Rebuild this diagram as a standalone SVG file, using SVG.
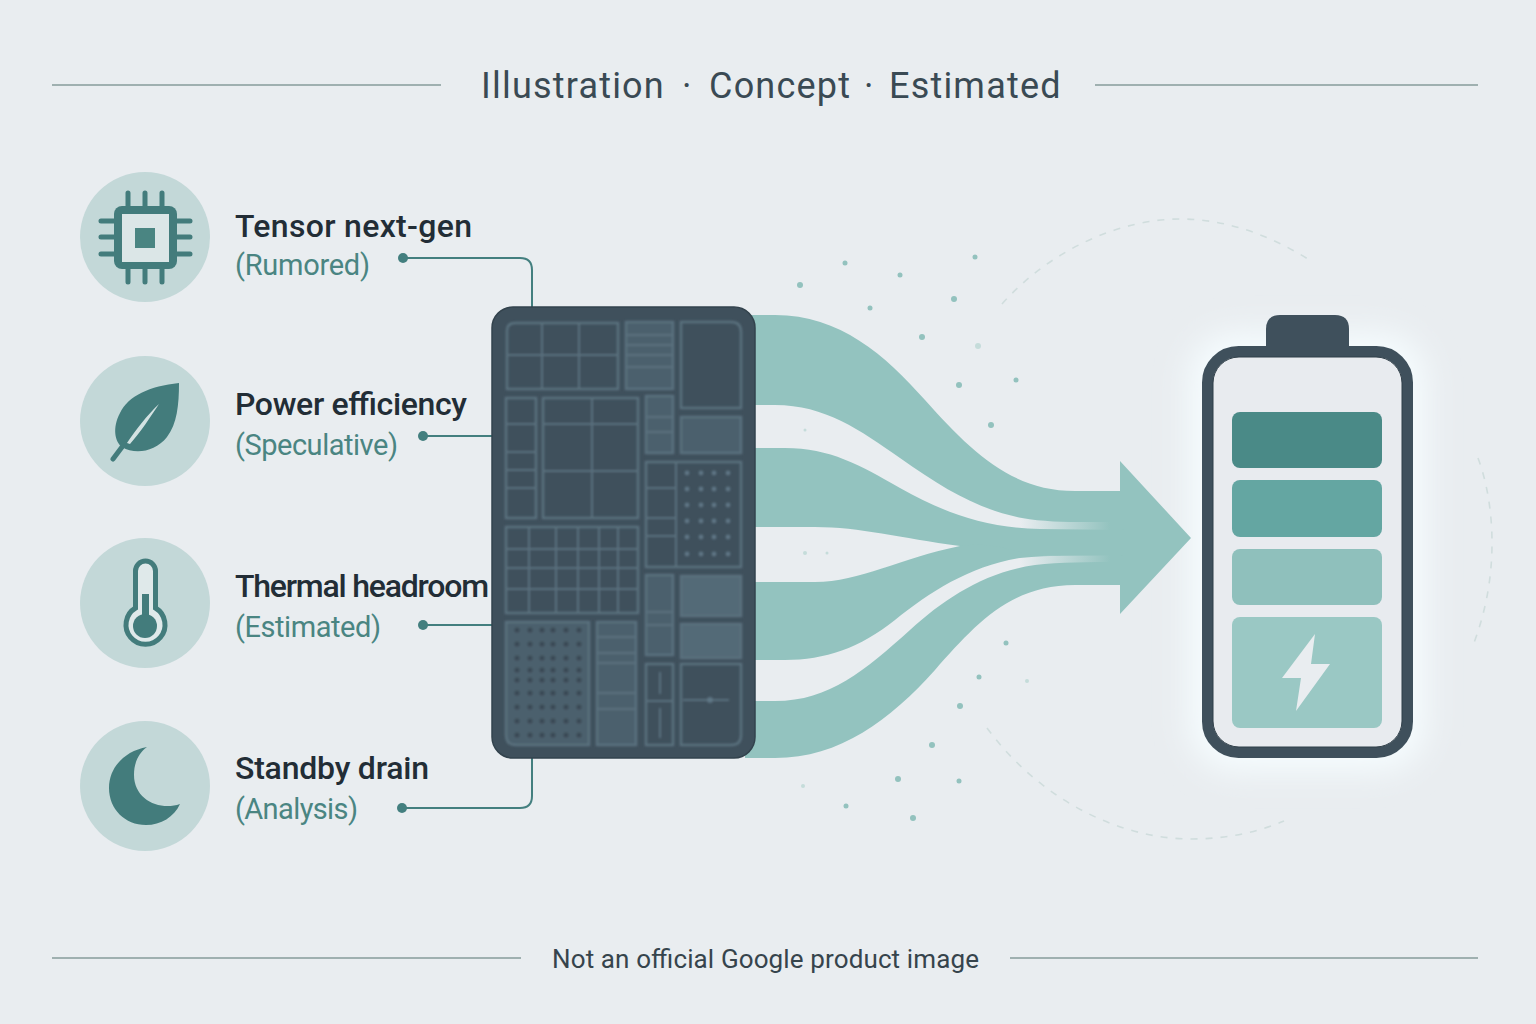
<svg xmlns="http://www.w3.org/2000/svg" width="1536" height="1024" viewBox="0 0 1536 1024">
  <style>
    text { font-family: Roboto, "Liberation Sans", sans-serif; }
    .rule { stroke: #9fb0b0; stroke-width: 2; fill: none; }
    .title { font-size: 36px; font-weight: 450; fill: #3a4a54; letter-spacing: 1.2px; }
    .foot { font-size: 26px; fill: #36444c; }
    .name { font-size: 32px; font-weight: 500; fill: #222d36; }
    .tag { font-size: 29px; fill: #4a8582; }
    .disc { fill: #c3d8d8; }
    .ink { fill: #437c7c; }
    .wire { fill: none; stroke: #437f7f; stroke-width: 2; }
    .end { fill: #437f7f; }
    .cell { fill: none; stroke: #5a717e; stroke-width: 2.5; }
    .cell.soft { fill: #4b606d; }
    .line { stroke: #5a717e; stroke-width: 2; fill: none; }
    .pad { fill: #5f7685; }
    .pad.dark { fill: #3a4a55; }
    .spark { fill: #93c2be; }
    .spark.dim { fill: #c5dcda; }
    .orbit { fill: none; stroke: #d0dddd; stroke-width: 1.6; stroke-dasharray: 7 8; }
    .stream { fill: #93c3bf; }
  </style>
  <defs>
    <linearGradient id="seam" gradientUnits="userSpaceOnUse" x1="1020" y1="0" x2="1110" y2="0">
      <stop offset="0" stop-color="#93c3bf" stop-opacity="0"/>
      <stop offset="1" stop-color="#93c3bf" stop-opacity="1"/>
    </linearGradient>
    <filter id="halo" x="-30%" y="-30%" width="160%" height="160%">
      <feGaussianBlur stdDeviation="16"/>
    </filter>
    <filter id="soften" x="-2%" y="-2%" width="104%" height="104%">
      <feGaussianBlur stdDeviation="0.8"/>
    </filter>
  </defs>

  <rect width="1536" height="1024" fill="#e9edf0"/>

  <g id="header">
    <line class="rule" x1="52" y1="85" x2="441" y2="85"/>
    <line class="rule" x1="1095" y1="85" x2="1478" y2="85"/>
    <text class="title" y="98"><tspan x="481">Illustration</tspan><tspan x="682">·</tspan><tspan x="709">Concept</tspan><tspan x="864">·</tspan><tspan x="889">Estimated</tspan></text>
  </g>

  <g id="footer">
    <line class="rule" x1="52" y1="958" x2="521" y2="958"/>
    <line class="rule" x1="1010" y1="958" x2="1478" y2="958"/>
    <text class="foot" x="552" y="968" textLength="427">Not an official Google product image</text>
  </g>

  <g id="orbits">
    <path class="orbit" d="M1002 304 C1050 250 1120 219 1180 219 C1230 219 1275 238 1311 261"/>
    <path class="orbit" d="M987 728 C1040 800 1120 839 1191 839 C1225 839 1255 833 1284 821"/>
    <path class="orbit" d="M1478 458 C1488 485 1492 515 1492 543 C1492 580 1485 615 1472 648"/>
  </g>

  <g id="particles">
    <circle class="spark" cx="845" cy="263" r="2.5"/><circle class="spark" cx="900" cy="275" r="2.5"/>
    <circle class="spark" cx="975" cy="257" r="2.5"/><circle class="spark" cx="800" cy="285" r="3"/>
    <circle class="spark" cx="870" cy="308" r="2.5"/><circle class="spark" cx="954" cy="299" r="3"/>
    <circle class="spark" cx="922" cy="337" r="3"/><circle class="spark dim" cx="978" cy="346" r="3"/>
    <circle class="spark" cx="959" cy="385" r="3"/><circle class="spark" cx="1016" cy="380" r="2.5"/>
    <circle class="spark" cx="991" cy="425" r="3"/><circle class="spark dim" cx="805" cy="430" r="1.5"/>
    <circle class="spark dim" cx="805" cy="553" r="2"/><circle class="spark dim" cx="827" cy="553" r="1.5"/>
    <circle class="spark" cx="1006" cy="643" r="2.5"/><circle class="spark" cx="979" cy="677" r="2.5"/>
    <circle class="spark dim" cx="1027" cy="681" r="2"/><circle class="spark" cx="960" cy="706" r="3"/>
    <circle class="spark" cx="932" cy="745" r="3"/><circle class="spark" cx="898" cy="779" r="3"/>
    <circle class="spark" cx="959" cy="781" r="2.5"/><circle class="spark dim" cx="803" cy="786" r="2"/>
    <circle class="spark" cx="846" cy="806" r="2.5"/><circle class="spark" cx="913" cy="818" r="3"/>
  </g>

  <g id="connectors">
    <path class="wire" d="M403 258 H520 Q532 258 532 270 V307"/>
    <path class="wire" d="M423 436 H492"/>
    <path class="wire" d="M423 625 H492"/>
    <path class="wire" d="M402 808 H520 Q532 808 532 796 V758"/>
    <circle class="end" cx="403" cy="258" r="5"/>
    <circle class="end" cx="423" cy="436" r="5"/>
    <circle class="end" cx="423" cy="625" r="5"/>
    <circle class="end" cx="402" cy="808" r="5"/>
  </g>

  <rect id="battery-glow" x="1190" y="334" width="235" height="436" rx="44" fill="#f6fdff" filter="url(#halo)"/>

  <g id="flow">
    <!-- upper band, arrow head and lower band share one outline -->
    <path class="stream" d="M745 315 H775 C840 315 885 355 925 400 C970 450 1010 491 1075 491 H1120 V461 L1191 538 L1120 614 V585 H1075 C1010 585 975 625 935 670 C890 720 840 758 775 758 H745 V701 H775 C830 701 865 670 910 630 C945 598 985 572 1035 565 C1060 562 1090 562 1120 562 V522 C1080 522 1050 523 1022 518 C980 510 945 490 900 458 C860 430 825 405 775 405 H745 Z"/>
    <path class="stream" d="M745 448 H785 C830 448 860 465 900 488 C945 513 985 528 1040 529 L1125 530 V555 L1040 556 C1020 556 1000 553 960 546 C900 538 860 527 815 527 H745 Z"/>
    <path class="stream" d="M745 582 H815 C860 582 900 558 960 546 C1000 540 1020 556 1040 556 L1125 555 C1085 555 1050 555 1020 558 C970 566 930 592 895 620 C860 648 825 660 785 660 H745 Z"/>
    <path fill="url(#seam)" d="M1015 515 H1120 V532 H1015 Z"/>
    <path fill="url(#seam)" d="M1015 550 H1120 V566 H1015 Z"/>
  </g>

  <g id="soc">
    <rect x="492" y="307" width="263" height="451" rx="21" fill="#3f505c" stroke="#33434d" stroke-width="1.5"/>
    <g filter="url(#soften)">
    <path class="cell" d="M515 323 H618 V389 H507 V331 Q507 323 515 323 Z"/>
    <path class="line" d="M542 323 V389 M579 323 V389 M507 355 H618"/>

    <rect class="cell soft" x="626" y="322" width="47" height="67"/>
    <path class="line" d="M626 335 H673 M626 345 H673 M626 355 H673 M626 367 H673"/>

    <path class="cell" d="M681 322 H731 Q741 322 741 332 V408 H681 Z"/>

    <rect class="cell" x="506" y="398" width="30" height="120"/>
    <path class="line" d="M506 424 H536 M506 452 H536 M506 470 H536 M506 488 H536"/>

    <rect class="cell" x="543" y="398" width="95" height="120"/>
    <path class="line" d="M592 398 V518 M543 424 H638 M543 471 H638"/>

    <rect class="cell soft" x="646" y="396" width="27" height="57"/>
    <path class="line" d="M646 417 H673 M646 432 H673"/>

    <rect class="cell soft" x="681" y="417" width="60" height="36"/>

    <rect class="cell" x="646" y="462" width="95" height="105"/>
    <path class="line" d="M676 462 V567 M646 488 H676 M646 518 H676 M646 536 H676"/>
    <g class="pad">
      <circle cx="687" cy="473" r="2.4"/><circle cx="701" cy="473" r="2.4"/><circle cx="714" cy="473" r="2.4"/><circle cx="728" cy="473" r="2.4"/>
      <circle cx="687" cy="489" r="2.4"/><circle cx="701" cy="489" r="2.4"/><circle cx="714" cy="489" r="2.4"/><circle cx="728" cy="489" r="2.4"/>
      <circle cx="687" cy="505" r="2.4"/><circle cx="701" cy="505" r="2.4"/><circle cx="714" cy="505" r="2.4"/><circle cx="728" cy="505" r="2.4"/>
      <circle cx="687" cy="521" r="2.4"/><circle cx="701" cy="521" r="2.4"/><circle cx="714" cy="521" r="2.4"/><circle cx="728" cy="521" r="2.4"/>
      <circle cx="687" cy="537" r="2.4"/><circle cx="701" cy="537" r="2.4"/><circle cx="714" cy="537" r="2.4"/><circle cx="728" cy="537" r="2.4"/>
      <circle cx="687" cy="554" r="2.4"/><circle cx="701" cy="554" r="2.4"/><circle cx="714" cy="554" r="2.4"/><circle cx="728" cy="554" r="2.4"/>
    </g>

    <rect class="cell" x="506" y="527" width="132" height="86"/>
    <path class="line" d="M529 527 V613 M556 527 V613 M578 527 V613 M599 527 V613 M618 527 V613 M506 549 H638 M506 568 H638 M506 589 H638"/>

    <path class="cell soft" d="M506 622 H589 V745 H516 Q506 745 506 735 Z"/>
    <g class="pad dark">
      <circle cx="517" cy="630" r="2.6"/><circle cx="530" cy="630" r="2.6"/><circle cx="542" cy="630" r="2.6"/><circle cx="553" cy="630" r="2.6"/><circle cx="566" cy="630" r="2.6"/><circle cx="579" cy="630" r="2.6"/>
      <circle cx="517" cy="644" r="2.6"/><circle cx="530" cy="644" r="2.6"/><circle cx="542" cy="644" r="2.6"/><circle cx="553" cy="644" r="2.6"/><circle cx="566" cy="644" r="2.6"/><circle cx="579" cy="644" r="2.6"/>
      <circle cx="517" cy="658" r="2.6"/><circle cx="530" cy="658" r="2.6"/><circle cx="542" cy="658" r="2.6"/><circle cx="553" cy="658" r="2.6"/><circle cx="566" cy="658" r="2.6"/><circle cx="579" cy="658" r="2.6"/>
      <circle cx="517" cy="670" r="2.6"/><circle cx="530" cy="670" r="2.6"/><circle cx="542" cy="670" r="2.6"/><circle cx="553" cy="670" r="2.6"/><circle cx="566" cy="670" r="2.6"/><circle cx="579" cy="670" r="2.6"/>
      <circle cx="517" cy="680" r="2.6"/><circle cx="530" cy="680" r="2.6"/><circle cx="542" cy="680" r="2.6"/><circle cx="553" cy="680" r="2.6"/><circle cx="566" cy="680" r="2.6"/><circle cx="579" cy="680" r="2.6"/>
      <circle cx="517" cy="693" r="2.6"/><circle cx="530" cy="693" r="2.6"/><circle cx="542" cy="693" r="2.6"/><circle cx="553" cy="693" r="2.6"/><circle cx="566" cy="693" r="2.6"/><circle cx="579" cy="693" r="2.6"/>
      <circle cx="517" cy="707" r="2.6"/><circle cx="530" cy="707" r="2.6"/><circle cx="542" cy="707" r="2.6"/><circle cx="553" cy="707" r="2.6"/><circle cx="566" cy="707" r="2.6"/><circle cx="579" cy="707" r="2.6"/>
      <circle cx="517" cy="721" r="2.6"/><circle cx="530" cy="721" r="2.6"/><circle cx="542" cy="721" r="2.6"/><circle cx="553" cy="721" r="2.6"/><circle cx="566" cy="721" r="2.6"/><circle cx="579" cy="721" r="2.6"/>
      <circle cx="517" cy="735" r="2.6"/><circle cx="530" cy="735" r="2.6"/><circle cx="542" cy="735" r="2.6"/><circle cx="553" cy="735" r="2.6"/><circle cx="566" cy="735" r="2.6"/><circle cx="579" cy="735" r="2.6"/>
    </g>

    <rect class="cell soft" x="597" y="622" width="39" height="123"/>
    <path class="line" d="M597 637 H636 M597 653 H636 M597 663 H636 M597 693 H636 M597 709 H636"/>

    <rect class="cell soft" x="646" y="575" width="27" height="80"/>
    <path class="line" d="M646 612 H673 M646 625 H673"/>

    <rect class="cell soft" x="681" y="576" width="60" height="40" style="fill:#536a77"/>
    <rect class="cell soft" x="681" y="624" width="60" height="34" style="fill:#536a77"/>

    <rect class="cell" x="646" y="664" width="27" height="81"/>
    <path class="line" d="M646 701 H673 M660 672 V694 M660 708 V738"/>

    <path class="cell" d="M681 664 H741 V735 Q741 745 731 745 H681 Z"/>
    <path class="line" d="M683 700 H729"/>
    <circle class="pad" cx="710" cy="700" r="3"/>
    </g>
  </g>

  <g id="battery">
    <path d="M1266 346 V329 Q1266 315 1280 315 H1335 Q1349 315 1349 329 V346 Z" fill="#3f505c"/>
    <rect x="1207.500" y="351.500" width="200" height="401" rx="31" fill="#e8ebef" stroke="#3f505c" stroke-width="11"/>
    <rect x="1213" y="357" width="189" height="390" rx="26" fill="none" stroke="#2f3e48" stroke-width="1"/>
    <rect x="1232" y="412" width="150" height="56" rx="8" fill="#4a8a87"/>
    <rect x="1232" y="480" width="150" height="57" rx="8" fill="#64a6a2"/>
    <rect x="1232" y="549" width="150" height="56" rx="8" fill="#8fc0bc"/>
    <rect x="1232" y="617" width="150" height="111" rx="8" fill="#9ac8c4"/>
    <path d="M1315 634 L1311 664 H1330 L1296 711 L1301 678 H1282 Z" fill="#e9edf0"/>
  </g>

  <g id="node-tensor">
    <circle class="disc" cx="145" cy="237" r="65"/>
    <path d="M128 193 V206 M145 193 V206 M162 193 V206 M128 269 V282 M145 269 V282 M162 269 V282 M101 221 H114 M101 237 H114 M101 254 H114 M177 221 H190 M177 237 H190 M177 254 H190" fill="none" stroke="#437c7c" stroke-width="5" stroke-linecap="round"/>
    <rect class="ink" x="114" y="206" width="63" height="63" rx="8"/>
    <rect x="122" y="214" width="47" height="48" fill="#dbe6e7"/>
    <rect x="135" y="228" width="20" height="20" fill="#4a8582"/>
    <text class="name" x="235" y="237" textLength="237">Tensor next-gen</text>
    <text class="tag" x="235" y="275" textLength="135">(Rumored)</text>
  </g>

  <g id="node-power">
    <circle class="disc" cx="145" cy="421" r="65"/>
    <path d="M122 447 L113 459" fill="none" stroke="#437c7c" stroke-width="5" stroke-linecap="round"/>
    <path class="ink" d="M179 383 C150 386 128 396 120 413 C112 428 115 442 122 447 C135 455 155 452 167 437 C177 424 179 405 179 383 Z"/>
    <path d="M127 443 C135 431 148 414 159 404 C151 416 140 433 130 444 Z" fill="#d3e2e2"/>
    <text class="name" x="235" y="415" textLength="232">Power efficiency</text>
    <text class="tag" x="235" y="455" textLength="163">(Speculative)</text>
  </g>

  <g id="node-thermal">
    <circle class="disc" cx="145" cy="603" r="65"/>
    <path d="M135.500 608 V571 A10 10 0 0 1 155.500 571 V608 A19.500 19.500 0 1 1 135.500 608 Z" fill="#dfe9ea" stroke="#437c7c" stroke-width="5"/>
    <rect class="ink" x="142" y="594" width="7" height="30"/>
    <circle class="ink" cx="145" cy="626" r="12"/>
    <text class="name" x="235" y="597" textLength="254">Thermal headroom</text>
    <text class="tag" x="235" y="637" textLength="146">(Estimated)</text>
  </g>

  <g id="node-standby">
    <circle class="disc" cx="145" cy="786" r="65"/>
    <path class="ink" d="M147 747 C125 751 109 767 109 788 C109 809 125 825 146 825 C161 825 174 817 180 804 C160 811 134 800 134 775 C134 762 139 753 147 747 Z"/>
    <text class="name" x="235" y="779" textLength="194">Standby drain</text>
    <text class="tag" x="235" y="819" textLength="123">(Analysis)</text>
  </g>
</svg>
